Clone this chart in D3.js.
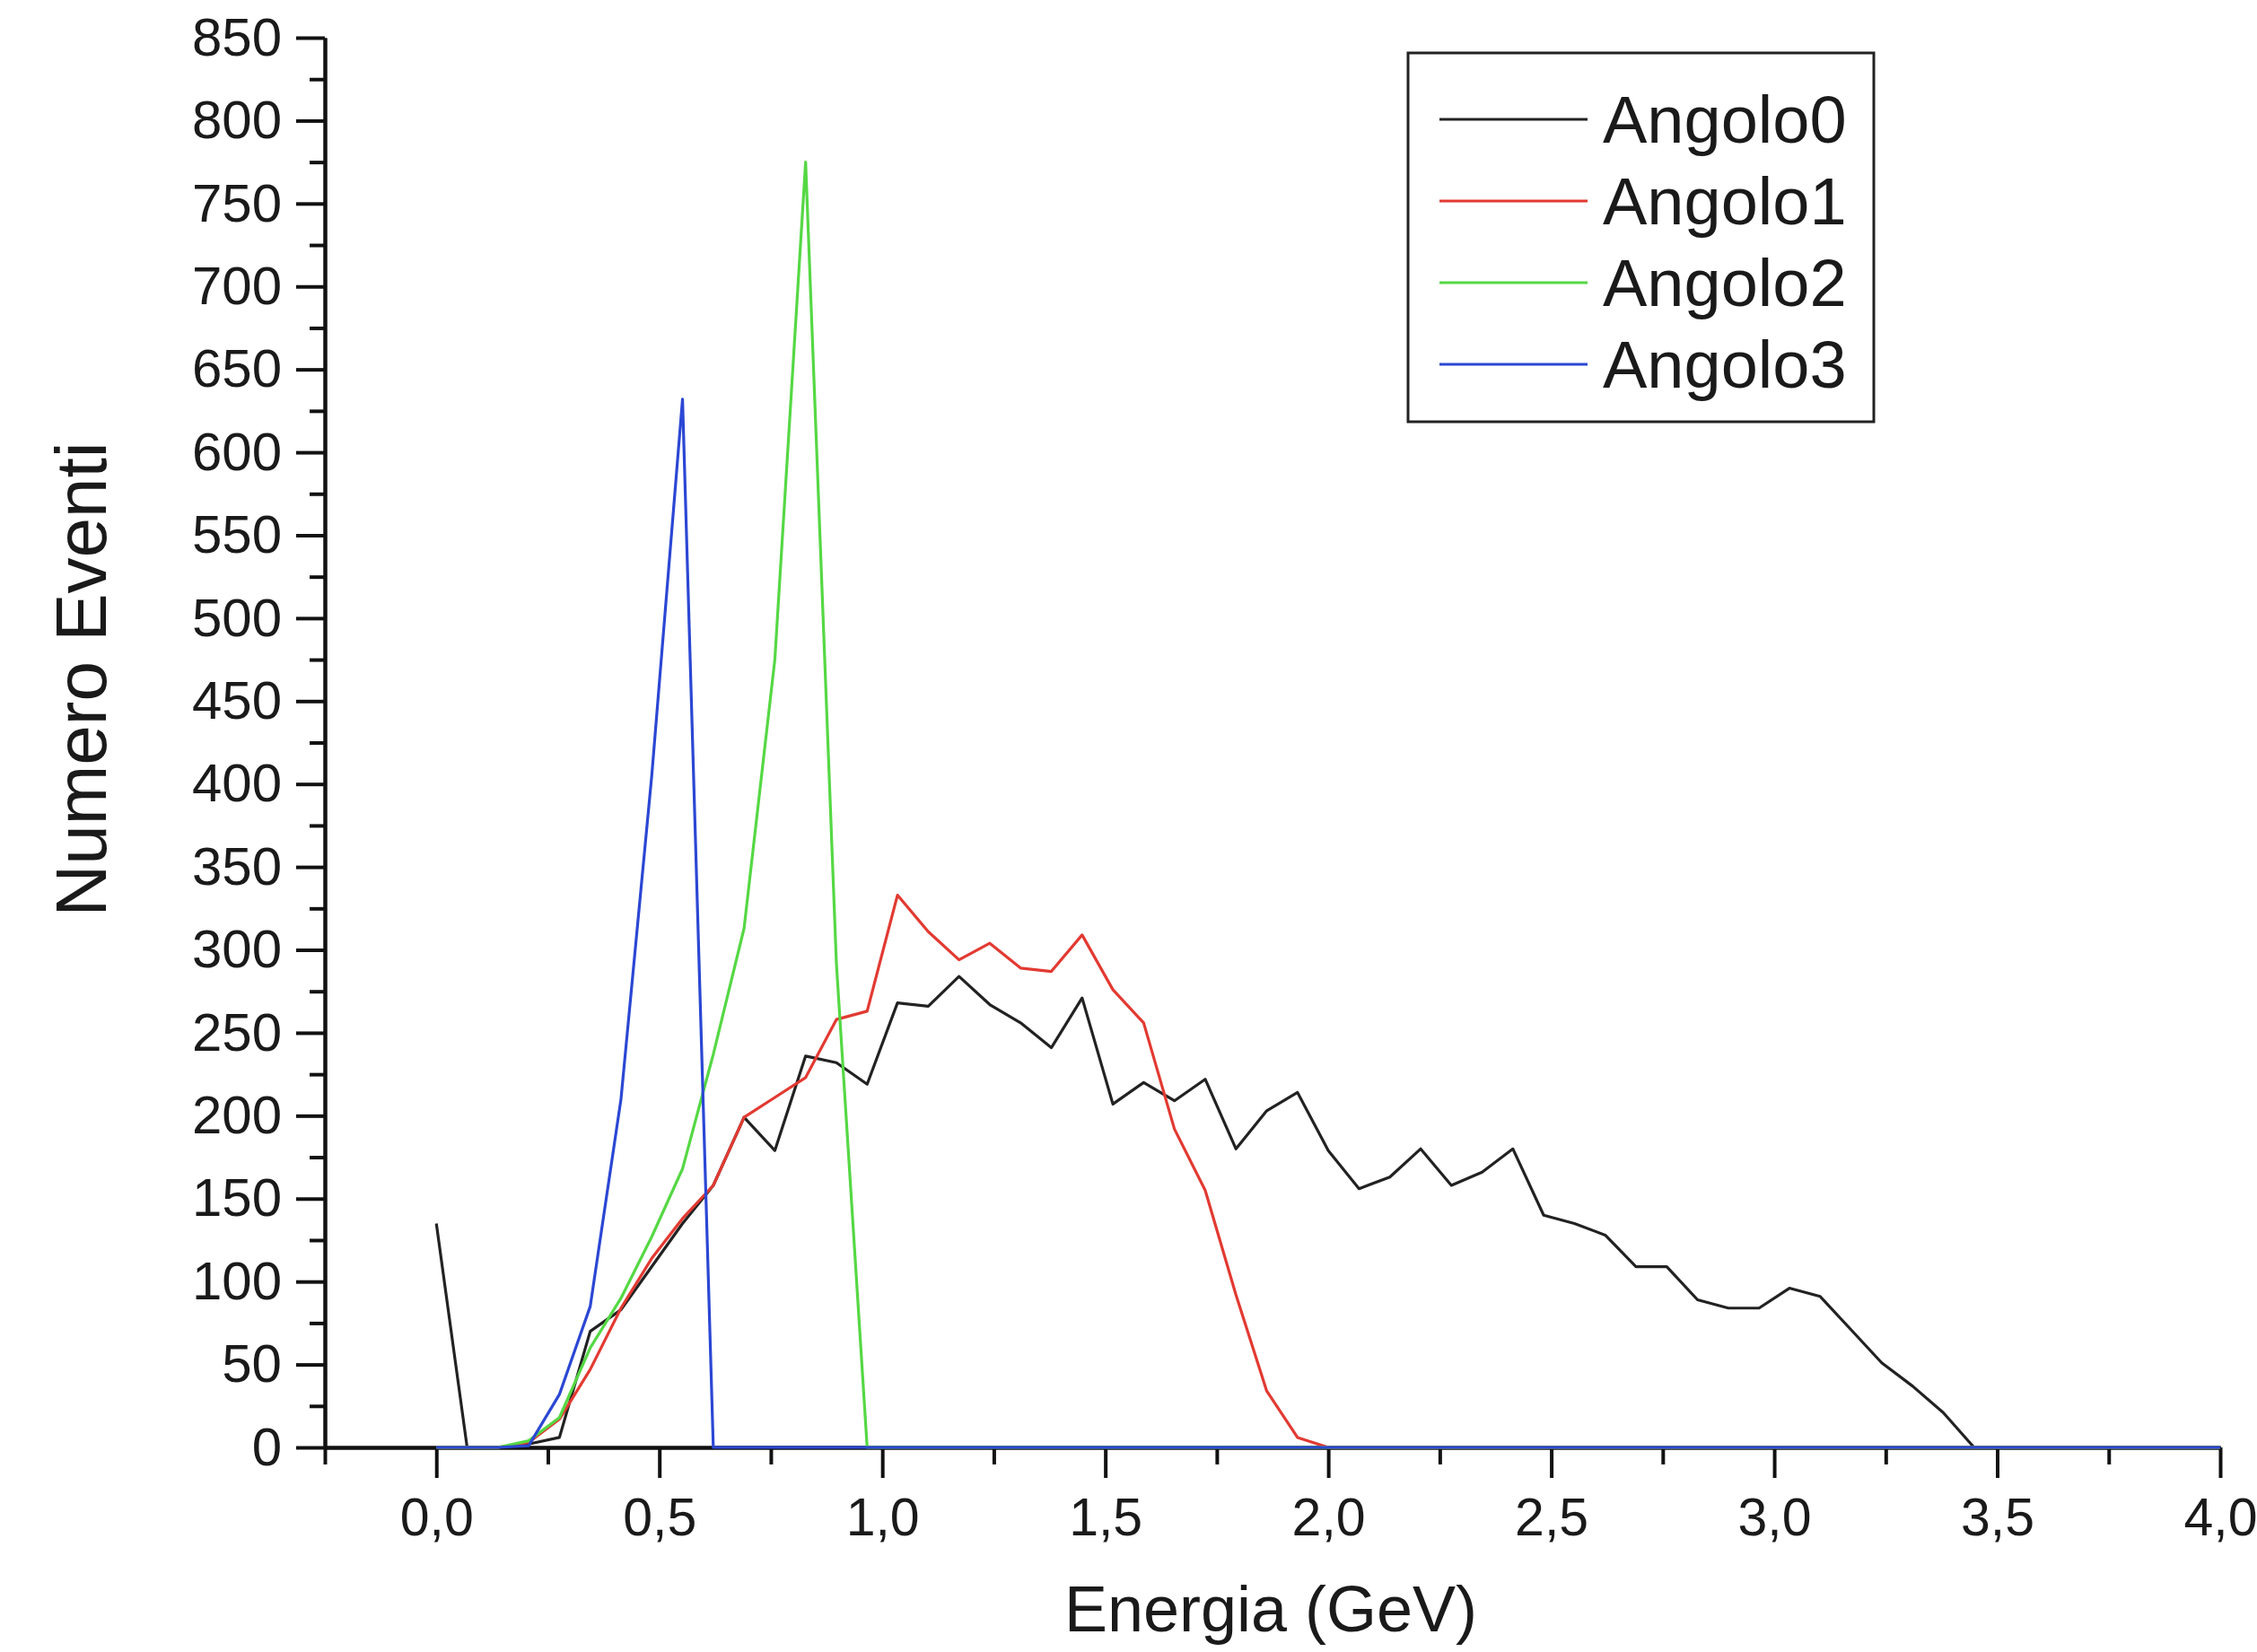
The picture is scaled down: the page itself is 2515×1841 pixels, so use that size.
<!DOCTYPE html>
<html>
<head>
<meta charset="utf-8">
<script src="https://cdn.jsdelivr.net/npm/d3@7"></script>
<style>
  html, body { margin: 0; padding: 0; background: #ffffff; }
  svg { display: block; }
  text { font-family: "Liberation Sans", Arial, sans-serif; fill: #1a1a1a; }
</style>
</head>
<body>
<svg id="chart" width="2515" height="1841"></svg>
<script>
// ---- data ----
const energy = [0.000,0.069,0.138,0.207,0.276,0.345,0.414,0.483,0.552,0.621,
  0.690,0.759,0.828,0.897,0.966,1.034,1.103,1.172,1.241,1.310,
  1.379,1.448,1.517,1.586,1.655,1.724,1.793,1.862,1.931,2.000,
  2.069,2.138,2.207,2.276,2.345,2.414,2.483,2.552,2.621,2.690,
  2.759,2.828,2.897,2.966,3.034,3.103,3.172,3.241,3.310,3.379,
  3.448,3.517,3.586,3.655,3.724,3.793,3.862,3.931,4.000];

const angolo0 = [135,0,0,2,6,70,83,109,135,158,
  199,179,236,232,219,268,266,284,267,256,
  241,271,207,220,209,222,180,203,214,179,
  156,163,180,158,166,180,140,135,128,109,
  109,89,84,84,96,91,71,51,37,21,
  0,0,0,0,0,0,0,0,0];

const angolo1 = [0,0,0,3,17,47,84,114,138,158,
  199,211,223,258,263,333,311,294,304,289,
  287,309,276,256,192,155,92,34,6,0,
  0,0,0,0,0,0,0,0,0,0,
  0,0,0,0,0,0,0,0,0,0,
  0,0,0,0,0,0,0,0,0];

const angolo2 = [0,0,0,4,18,60,90,127,168,237,
  313,475,775,292,0,0,0,0,0,0,
  0,0,0,0,0,0,0,0,0,0,
  0,0,0,0,0,0,0,0,0,0,
  0,0,0,0,0,0,0,0,0,0,
  0,0,0,0,0,0,0,0,0];

const angolo3 = [0,0,0,1,32,85,210,405,632,0,
  0,0,0,0,0,0,0,0,0,0,
  0,0,0,0,0,0,0,0,0,0,
  0,0,0,0,0,0,0,0,0,0,
  0,0,0,0,0,0,0,0,0,0,
  0,0,0,0,0,0,0,0,0];

const seriesNames = ["Angolo0","Angolo1","Angolo2","Angolo3"];
const seriesColors = ["#222222","#e23a32","#55d844","#2b47d4"];

const xMajorTicks = [0,0.5,1.0,1.5,2.0,2.5,3.0,3.5,4.0];
const xTickLabels = ["0,0","0,5","1,0","1,5","2,0","2,5","3,0","3,5","4,0"];
const xMinorTicks = [-0.25,0.25,0.75,1.25,1.75,2.25,2.75,3.25,3.75];
const yMajorTicks = [0,50,100,150,200,250,300,350,400,450,500,550,600,650,700,750,800,850];
const yMinorTicks = [25,75,125,175,225,275,325,375,425,475,525,575,625,675,725,775,825];

const xTitle = "Energia (GeV)";
const yTitle = "Numero Eventi";

// ---- layout ----
const svg = d3.select("#chart");
const x = d3.scaleLinear().domain([-0.25, 4.0]).range([362, 2474]);
const y = d3.scaleLinear().domain([0, 850]).range([1613, 42]);

const axisColor = "#111111";
const axisWidth = 4;

// x axis
const gx = svg.append("g").attr("transform", `translate(0,${y(0)})`);
gx.call(d3.axisBottom(x).tickValues(xMinorTicks).tickSize(19).tickSizeOuter(0).tickFormat(""));
gx.call(g => g.selectAll("text").remove());
const gx2 = svg.append("g").attr("transform", `translate(0,${y(0)})`);
gx2.call(d3.axisBottom(x).tickValues(xMajorTicks).tickSize(34).tickSizeOuter(0)
  .tickFormat((d,i) => xTickLabels[i]).tickPadding(22));
[gx, gx2].forEach(g => {
  g.selectAll("path.domain").attr("stroke", axisColor).attr("stroke-width", axisWidth);
  g.selectAll(".tick line").attr("stroke", axisColor).attr("stroke-width", axisWidth);
});
gx2.selectAll("text").attr("font-size", 59).attr("fill", "#1a1a1a")
  .attr("font-family", '"Liberation Sans", Arial, sans-serif');

// y axis
const gy = svg.append("g").attr("transform", `translate(${x(-0.25)},0)`);
gy.call(d3.axisLeft(y).tickValues(yMinorTicks).tickSize(17).tickSizeOuter(0).tickFormat(""));
const gy2 = svg.append("g").attr("transform", `translate(${x(-0.25)},0)`);
gy2.call(d3.axisLeft(y).tickValues(yMajorTicks).tickSize(32).tickSizeOuter(0)
  .tickFormat(d3.format("d")).tickPadding(16));
[gy, gy2].forEach(g => {
  g.selectAll("path.domain").attr("stroke", axisColor).attr("stroke-width", axisWidth);
  g.selectAll(".tick line").attr("stroke", axisColor).attr("stroke-width", axisWidth);
});
gy2.selectAll("text").attr("font-size", 60).attr("fill", "#1a1a1a")
  .attr("font-family", '"Liberation Sans", Arial, sans-serif');

// axis titles
svg.append("text").attr("x", 1416).attr("y", 1818).attr("text-anchor", "middle")
  .attr("font-size", 72).text(xTitle);
svg.append("text").attr("transform", "translate(118,757) rotate(-90)")
  .attr("text-anchor", "middle").attr("font-size", 80).text(yTitle);

// ---- lines ----
const allSeries = [angolo0, angolo1, angolo2, angolo3];
const line = d3.line().x((d,i) => x(energy[i])).y(d => y(d));
allSeries.forEach((s, k) => {
  svg.append("path").datum(s)
    .attr("fill", "none")
    .attr("stroke", seriesColors[k])
    .attr("stroke-width", 3.2)
    .attr("stroke-linejoin", "round")
    .attr("d", line);
});

// ---- legend ----
const lg = svg.append("g");
lg.append("rect").attr("x", 1569).attr("y", 59).attr("width", 519).attr("height", 411)
  .attr("fill", "#ffffff").attr("stroke", "#222222").attr("stroke-width", 3);
const rowY = [133, 224, 315, 406];
seriesNames.forEach((name, k) => {
  lg.append("line").attr("x1", 1604).attr("x2", 1769).attr("y1", rowY[k]).attr("y2", rowY[k])
    .attr("stroke", seriesColors[k]).attr("stroke-width", 3.2);
  lg.append("text").attr("x", 1786).attr("y", rowY[k]).attr("dy", "0.35em")
    .attr("font-size", 74).text(name);
});
</script>
</body>
</html>
